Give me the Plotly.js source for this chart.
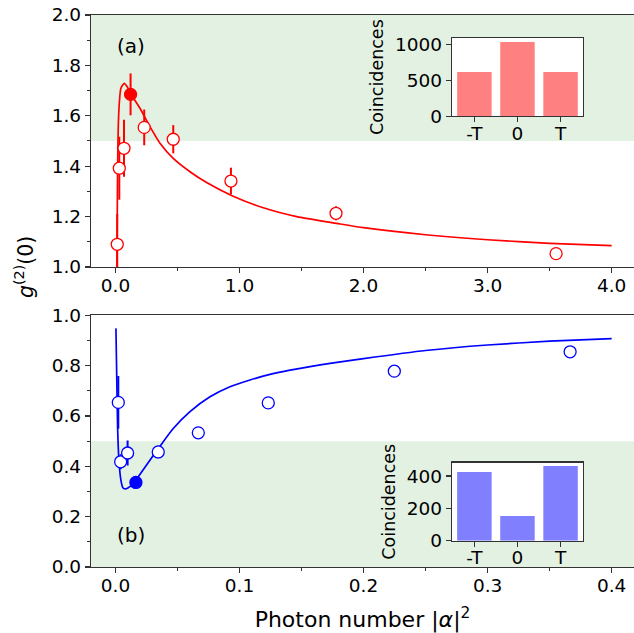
<!DOCTYPE html>
<html>
<head>
<meta charset="utf-8">
<script src="https://cdn.plot.ly/plotly-3.0.1.min.js"></script>
<style>html,body{margin:0;padding:0;background:#fff;}#chart{width:634px;height:633px;}</style>
</head>
<body>
<div id="chart"></div>
<script>
// ---- (a) data ----
const aPointsX = [0.0145, 0.031, 0.069, 0.232, 0.466, 0.931, 1.778, 3.552];
const aPointsY = [1.090, 1.392, 1.471, 1.554, 1.507, 1.341, 1.213, 1.053];
const aPointsErr = [0.12, 0.125, 0.113, 0.071, 0.056, 0.053, 0.028, 0.0];
const aFilledX = [0.122];
const aFilledY = [1.685];
const aFilledErr = [0.083];
const aCurveX = [0.012, 0.014, 0.016, 0.019, 0.023, 0.031, 0.044, 0.071, 0.095, 0.122, 0.1976, 0.278, 0.359, 0.466, 0.601, 0.735, 0.931, 1.192, 1.461, 1.784, 2.0, 2.5, 3.0, 3.5, 4.0];
const aCurveY = [1.0, 1.15, 1.30, 1.45, 1.56, 1.65, 1.709, 1.729, 1.715, 1.688, 1.630, 1.557, 1.491, 1.431, 1.378, 1.335, 1.285, 1.235, 1.200, 1.173, 1.156, 1.128, 1.108, 1.094, 1.085];
// ---- (b) data ----
const bPointsX = [0.0023, 0.0042, 0.0098, 0.0345, 0.0668, 0.1232, 0.2248, 0.3665];
const bPointsY = [0.654, 0.418, 0.453, 0.457, 0.533, 0.652, 0.778, 0.855];
const bPointsErr = [0.105, 0.03, 0.05, 0.025, 0.02, 0.0, 0.0, 0.0];
const bFilledX = [0.0165];
const bFilledY = [0.336];
const bFilledErr = [0.02];
const bCurveX = [0.0004, 0.0011, 0.0018, 0.0028, 0.0044, 0.0060, 0.0078, 0.0100, 0.0131, 0.0165, 0.0265, 0.0345, 0.0466, 0.0601, 0.0762, 0.0923, 0.1085, 0.1246, 0.1407, 0.1569, 0.173, 0.2, 0.25, 0.30, 0.35, 0.40];
const bCurveY = [0.948, 0.74, 0.544, 0.424, 0.345, 0.315, 0.310, 0.314, 0.325, 0.345, 0.415, 0.470, 0.550, 0.617, 0.676, 0.716, 0.743, 0.765, 0.782, 0.796, 0.809, 0.828, 0.860, 0.882, 0.897, 0.907];
// ---- insets ----
const insetCats = ['-T', '0', 'T'];
const insetA = [615, 1032, 615];
const insetB = [425, 153, 462];

const FONT = 'DejaVu Sans, sans-serif';
const red = '#ff0000', blue = '#0000ff';

function pts(x, y, err, color, filled, xa, ya) {
  return {
    x: x, y: y, xaxis: xa, yaxis: ya, type: 'scatter', mode: 'markers',
    marker: {size: 12, color: filled ? color : '#ffffff', line: {color: color, width: 1.3}},
    error_y: {type: 'data', array: err, visible: true, color: color, thickness: 2, width: 0},
    showlegend: false, hoverinfo: 'skip', cliponaxis: false
  };
}
function curve(x, y, color, xa, ya) {
  return {x: x, y: y, xaxis: xa, yaxis: ya, type: 'scatter', mode: 'lines',
    line: {color: color, width: 1.7, shape: 'spline', smoothing: 0.6}, showlegend: false, hoverinfo: 'skip'};
}

const traces = [
  curve(aCurveX, aCurveY, red, 'x', 'y'),
  pts(aPointsX, aPointsY, aPointsErr, red, false, 'x', 'y'),
  pts(aFilledX, aFilledY, aFilledErr, red, true, 'x', 'y'),
  curve(bCurveX, bCurveY, blue, 'x2', 'y2'),
  pts(bPointsX, bPointsY, bPointsErr, blue, false, 'x2', 'y2'),
  pts(bFilledX, bFilledY, bFilledErr, blue, true, 'x2', 'y2'),
  {x: insetCats, y: insetA, type: 'bar', xaxis: 'x3', yaxis: 'y3', marker: {color: '#ff8080'}, width: 0.8, showlegend: false, hoverinfo: 'skip'},
  {x: insetCats, y: insetB, type: 'bar', xaxis: 'x4', yaxis: 'y4', marker: {color: '#8080ff'}, width: 0.8, showlegend: false, hoverinfo: 'skip'}
];

const axLine = {showline: true, linecolor: '#333', linewidth: 1.2, ticks: 'outside', ticklen: 5, tickwidth: 1.2, tickcolor: '#333',
  showgrid: false, zeroline: false, tickfont: {family: FONT, size: 18.5, color: '#000'}};
const minorX = (d) => ({dtick: d, ticks: 'outside', ticklen: 3, tickwidth: 1, tickcolor: '#333', showgrid: false});

const layout = {
  width: 634, height: 633,
  margin: {l: 91, r: 0, t: 15, b: 66},
  paper_bgcolor: '#fff', plot_bgcolor: 'rgba(0,0,0,0)',
  font: {family: FONT, color: '#000'},
  showlegend: false,
  bargap: 0.2,
  xaxis: Object.assign({}, axLine, {domain: [0, 1], anchor: 'y', range: [-0.197, 4.18], dtick: 1, tick0: 0, tickformat: '.1f', mirror: true, minor: minorX(0.5), ticklabelstandoff: -3}),
  yaxis: Object.assign({}, axLine, {domain: [0.5435, 1], anchor: 'x', range: [1.0, 2.0], dtick: 0.2, tick0: 0, tickformat: '.1f', minor: minorX(0.1)}),
  xaxis2: Object.assign({}, axLine, {domain: [0, 1], anchor: 'y2', range: [-0.0197, 0.418], dtick: 0.1, tick0: 0, tickformat: '.1f', mirror: true, minor: minorX(0.05), ticklabelstandoff: -3,
    title: {text: 'Photon number |<i>α</i>|<sup>2</sup>', font: {family: FONT, size: 22}, standoff: 19}}),
  yaxis2: Object.assign({}, axLine, {domain: [0, 0.456], anchor: 'x2', range: [0, 1.0], dtick: 0.2, tick0: 0, tickformat: '.1f', minor: minorX(0.1)}),
  xaxis3: Object.assign({}, axLine, {domain: [0.6648, 0.906], anchor: 'y3', range: [-0.52, 2.52], mirror: true, type: 'category', ticklabelstandoff: -5, tickfont: {family: FONT, size: 18.5}}),
  yaxis3: Object.assign({}, axLine, {domain: [0.8165, 0.9583], anchor: 'x3', range: [0, 1087], tickvals: [0, 500, 1000], mirror: true,
    title: {text: 'Coincidences', font: {family: FONT, size: 17.5}, standoff: 6}}),
  xaxis4: Object.assign({}, axLine, {domain: [0.6648, 0.906], anchor: 'y4', range: [-0.52, 2.52], mirror: true, type: 'category', ticklabelstandoff: -5, tickfont: {family: FONT, size: 18.5}}),
  yaxis4: Object.assign({}, axLine, {domain: [0.0476, 0.189], anchor: 'x4', range: [0, 483], tickvals: [0, 200, 400], mirror: true,
    title: {text: 'Coincidences', font: {family: FONT, size: 17.5}, standoff: 6}}),
  shapes: [
    {type: 'rect', xref: 'x domain', yref: 'y', x0: 0, x1: 1, y0: 1.5, y1: 2.0, fillcolor: 'rgba(0,128,0,0.11)', line: {width: 0}, layer: 'below'},
    {type: 'rect', xref: 'x2 domain', yref: 'y2', x0: 0, x1: 1, y0: 0, y1: 0.5, fillcolor: 'rgba(0,128,0,0.11)', line: {width: 0}, layer: 'below'},
    {type: 'rect', xref: 'x3 domain', yref: 'y3 domain', x0: 0, x1: 1, y0: 0, y1: 1, fillcolor: '#ffffff', line: {width: 0}, layer: 'below'},
    {type: 'rect', xref: 'x4 domain', yref: 'y4 domain', x0: 0, x1: 1, y0: 0, y1: 1, fillcolor: '#ffffff', line: {width: 0}, layer: 'below'}
  ],
  annotations: [
    {text: '(a)', xref: 'x domain', yref: 'y domain', x: 0.0737, y: 0.877, showarrow: false, xanchor: 'center', yanchor: 'middle', font: {family: FONT, size: 20}},
    {text: '(b)', xref: 'x2 domain', yref: 'y2 domain', x: 0.0737, y: 0.126, showarrow: false, xanchor: 'center', yanchor: 'middle', font: {family: FONT, size: 20}},
    {text: '<i>g</i><sup>(2)</sup>(0)', xref: 'paper', yref: 'paper', x: -0.122, y: 0.543, showarrow: false, textangle: -90, xanchor: 'center', yanchor: 'middle', font: {family: FONT, size: 20.5}}
  ]
};

Plotly.newPlot('chart', traces, layout, {staticPlot: true, displayModeBar: false});
</script>
</body>
</html>
